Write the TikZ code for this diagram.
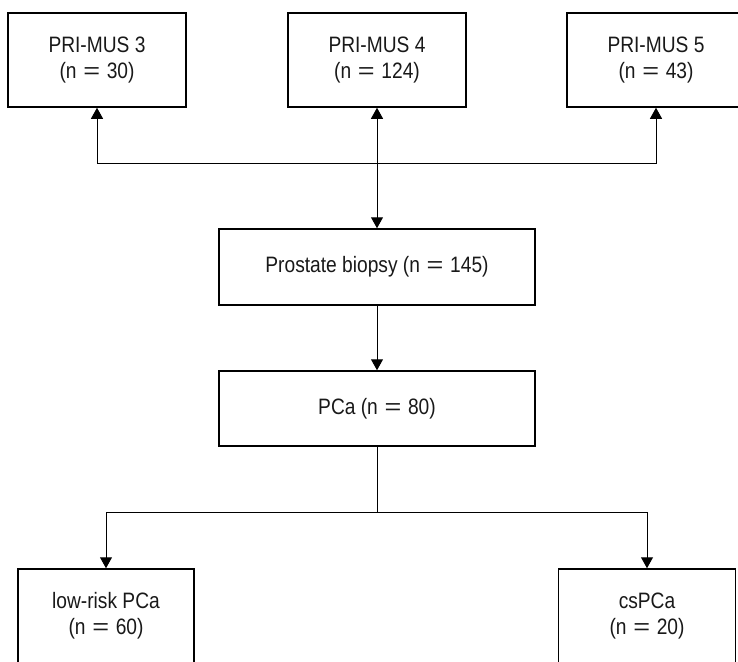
\documentclass[tikz,border=0pt]{standalone}
\usepackage{fontspec}
\usepackage{graphicx}
\setmainfont{Liberation Sans}[FakeStretch=0.86]
\usetikzlibrary{arrows.meta}
\newcommand\myeq{\hspace{0.3em}\scalebox{1.5}[1]{=}\hspace{0.3em}}
\begin{document}
\begin{tikzpicture}[x=1pt,y=-1pt,
  box/.style={draw=black,line width=1.5pt,inner sep=0pt,align=center,
    font=\fontsize{22.3}{26}\selectfont,text=black!90},
  topbox/.style={box,minimum width=178pt,minimum height=94pt},
  midbox/.style={box,minimum width=316pt,minimum height=76pt},
  conn/.style={line width=1pt,draw=black},
  arr/.style={conn,-{Triangle[width=12pt,length=11pt]}}]
\useasboundingbox (0,0) rectangle (738,661);
\clip (0,0) rectangle (738,661);
\node[topbox] (pm3) at (97,60) {PRI-MUS 3\\(n\myeq30)};
\node[topbox] (pm4) at (377,60) {PRI-MUS 4\\(n\myeq124)};
\node[topbox] (pm5) at (656,60) {PRI-MUS 5\\(n\myeq43)};
\node[midbox] (pb) at (377,267) {Prostate biopsy (n\myeq145)};
\node[midbox,minimum height=75pt] (pca) at (377,408.5) {PCa (n\myeq80)};
\node[topbox,minimum width=176pt] (lr) at (106,616) {low-risk PCa\\(n\myeq60)};
\node[topbox,minimum width=177pt] (cs) at (647,616) {csPCa\\(n\myeq20)};
\coordinate (j) at (377,163);
\coordinate (k) at (377,512);
\draw[arr] (j) -- (pm4.south);
\draw[arr] (j) -| (pm3.south);
\draw[arr] (j) -| (pm5.south);
\draw[arr] (j) -- (pb.north);
\draw[arr] (pb.south) -- (pca.north);
\draw[conn] (pca.south) -- (k);
\draw[arr] (k) -| (lr.north);
\draw[arr] (k) -| (cs.north);
\end{tikzpicture}
\end{document}
